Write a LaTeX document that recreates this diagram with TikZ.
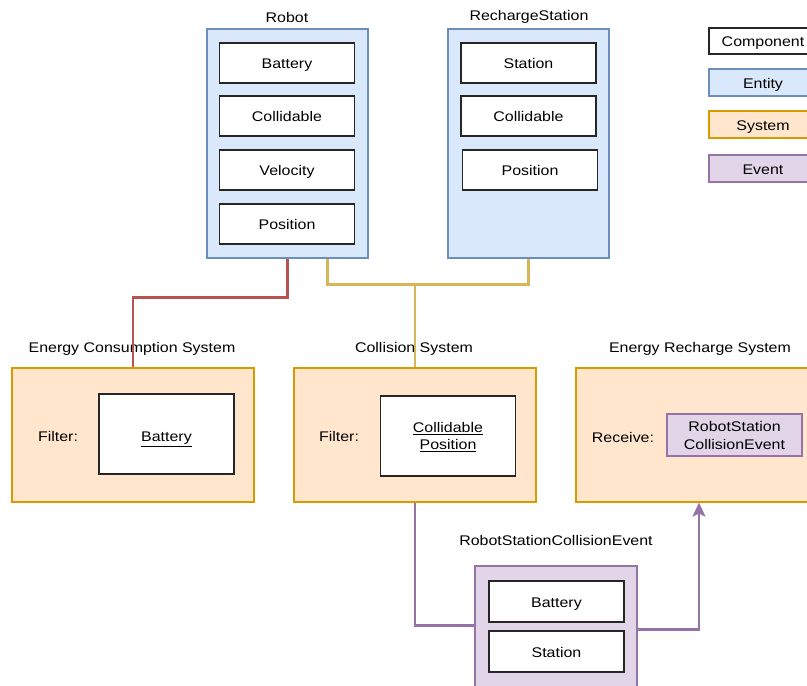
\documentclass[tikz,border=0pt]{standalone}
\usepackage{fontspec}
\setmainfont{Liberation Sans}[FakeStretch=1.14]
\usetikzlibrary{arrows.meta,calc}
\definecolor{entfill}{HTML}{DAE8FC}
\definecolor{entline}{HTML}{6C8EBF}
\definecolor{sysfill}{HTML}{FFE6CC}
\definecolor{sysline}{HTML}{D79B00}
\definecolor{evfill}{HTML}{E1D5E7}
\definecolor{evline}{HTML}{9673A6}
\definecolor{redline}{HTML}{B85450}
\definecolor{yelline}{HTML}{D6B656}
\tikzset{
  base/.style={inner sep=0pt, font=\fontsize{14}{17}\selectfont, text height=14pt, text depth=3pt},
  comp/.style={base, draw=black!85, fill=white, line width=1.3pt, minimum width=135pt, minimum height=40pt},
  entity/.style={base, draw=entline, fill=entfill, line width=1.2pt},
  system/.style={base, draw=sysline, fill=sysfill, line width=1.2pt, minimum height=134pt},
  event/.style={base, draw=evline, fill=evfill, line width=1.2pt},
  title/.style={base, anchor=base},
  link/.style={line width=2.4pt},
}
\begin{document}
\begin{tikzpicture}[x=1pt,y=-1pt]
\useasboundingbox (0,0) rectangle (807,686);
\clip (0,0) rectangle (807,686);

% Robot entity
\node[title] (robott) at (287,22.3) {Robot};
\node[entity, minimum width=161pt, minimum height=229pt] (robot) at (287.5,143.5) {};
\node[comp] (rbat) at (287,63) {Battery};
\node[comp] (rcol) at (287,116) {Collidable};
\node[comp] (rvel) at (287,170) {Velocity};
\node[comp] (rpos) at (287,224) {Position};

% RechargeStation entity
\node[title] (rst) at (529,20) {RechargeStation};
\node[entity, minimum width=161pt, minimum height=229pt] (rs) at (528.5,143.5) {};
\node[comp] (sst) at (528.5,63) {Station};
\node[comp] (scol) at (528.5,116) {Collidable};
\node[comp] (spos) at (530,170) {Position};

% Legend
\node[comp, minimum width=108pt, minimum height=26pt] (lcomp) at (763,41) {Component};
\node[entity, minimum width=108pt, minimum height=27pt] (lent) at (763,82.5) {Entity};
\node[system, minimum width=108pt, minimum height=27pt] (lsys) at (763,124.5) {System};
\node[event, minimum width=108pt, minimum height=27pt] (lev) at (763,168.5) {Event};

% Energy Consumption System
\node[title] (ecst) at (132,352.7) {Energy Consumption System};
\node[system, minimum width=242pt] (ecs) at (133,435) {};
\node[title] (ecsf) at (58,441.7) {Filter:};
\node[comp, minimum height=80pt] (ecsi) at (166.5,434) {};
\node[title] (ecsit) at (166.5,441.5) {\underline{Battery}};

% Collision System
\node[title] (cst) at (414,352.7) {Collision System};
\node[system, minimum width=242pt] (cs) at (415,435) {};
\node[title] (csf) at (339,441.7) {Filter:};
\node[comp, minimum height=80pt] (csi) at (448,436) {};
\node[title] (csi1) at (448,432.7) {\underline{Collidable}};
\node[title] (csi2) at (448,449.3) {\underline{Position}};

% Energy Recharge System
\node[title] (erst) at (700,352.7) {Energy Recharge System};
\node[system, minimum width=246pt] (ers) at (699,435) {};
\node[title] (ersr) at (623,442.7) {Receive:};
\node[event, minimum width=135pt, minimum height=42pt] (ersi) at (734.5,435) {};
\node[title] (ersi1) at (734.5,431) {RobotStation};
\node[title] (ersi2) at (734.5,449.3) {CollisionEvent};

% RobotStationCollisionEvent
\node[title] (evt) at (556,545) {RobotStationCollisionEvent};
\node[event, minimum width=162pt, minimum height=150pt] (ev) at (556,641) {};
\node[comp, minimum height=41pt] (ebat) at (556.5,601.5) {Battery};
\node[comp, minimum height=41pt] (esta) at (556.5,651.5) {Station};

% Connectors
\coordinate (ry) at ($(robot.south east)+(-41,0)$);
\draw[link, redline] (robot.south) -- ++(0,39) -| (ecs.north);
\draw[link, yelline] (ry) -- ++(0,26) coordinate (yj) -| (rs.south);
\draw[link, yelline] (cs.north) -- (cs.north |- yj);
\draw[link, evline] (cs.south) |- ($(ev.north west)+(0,60)$);
\draw[link, evline, -{Stealth[length=14pt, width=13pt, inset=3pt]}] ($(ev.north east)+(0,64)$) -| (ers.south);
\end{tikzpicture}
\end{document}
